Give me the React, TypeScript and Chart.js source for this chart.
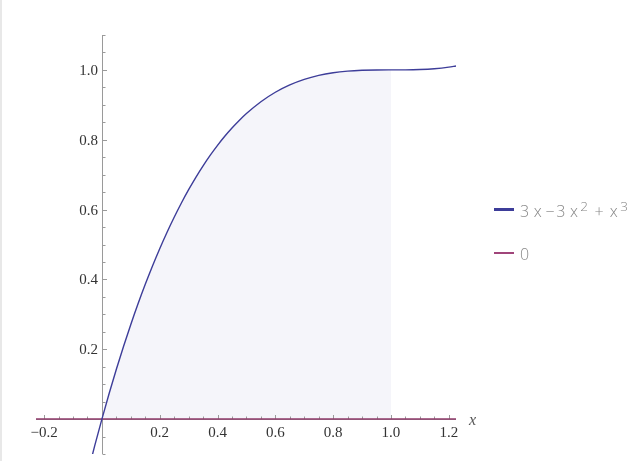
import React, { useEffect, useRef } from "react";
import { Chart, registerables } from "chart.js";

Chart.register(...registerables);

// Curve samples (x, y)
const curveX = [
  -0.05, -0.025, 0, 0.025, 0.05, 0.075, 0.1, 0.125, 0.15, 0.175, 0.2, 0.225, 0.25, 0.275, 0.3,
  0.325, 0.35, 0.375, 0.4, 0.425, 0.45, 0.475, 0.5, 0.55, 0.6, 0.65, 0.7, 0.75, 0.8, 0.85, 0.9,
  0.95, 1.0, 1.05, 1.1, 1.15, 1.2, 1.225,
];
const curveY = [
  -0.1576, -0.0769, 0, 0.0731, 0.1426, 0.2085, 0.271, 0.3301, 0.3859, 0.4385, 0.488, 0.5345,
  0.5781, 0.6189, 0.657, 0.6925, 0.7254, 0.7559, 0.784, 0.8099, 0.8336, 0.8553, 0.875, 0.9089,
  0.936, 0.9571, 0.973, 0.9844, 0.992, 0.9966, 0.999, 0.9999, 1.0, 1.0001, 1.001, 1.0034, 1.008,
  1.0114,
];
const zeroX = [-0.228, 1.225];
const zeroY = [0, 0];
const fillFrom = 0;
const fillTo = 1;

const xTickValues = [-0.2, 0.2, 0.4, 0.6, 0.8, 1.0, 1.2];
const xTickLabels = ["\u22120.2", "0.2", "0.4", "0.6", "0.8", "1.0", "1.2"];
const yTickValues = [0.2, 0.4, 0.6, 0.8, 1.0];
const yTickLabels = ["0.2", "0.4", "0.6", "0.8", "1.0"];
const xRange = [-0.228, 1.225];
const yRange = [-0.1, 1.1];
const minorStep = 0.05;

const seriesNames = ["3x\u22123x\u00b2+x\u00b3", "0"];
const curveColor = "#3d3d99";
const zeroColor = "#8f3a6a";
const legendZeroColor = "#a0457a";
const fillColor = "#f5f5fa";
const axisColor = "#9a9a9a";

const axesPlugin = {
  id: "mmaAxes",
  afterDatasetDraw(chart: any, args: any) {
    if (args.index !== 2) return;
    const ctx = chart.ctx;
    const xs = chart.scales.x;
    const ys = chart.scales.y;
    const area = chart.chartArea;
    const x0 = Math.round(xs.getPixelForValue(0)) + 0.5;
    const y0 = Math.round(ys.getPixelForValue(0)) + 0.5;
    ctx.save();
    ctx.strokeStyle = axisColor;
    ctx.lineWidth = 1;
    ctx.beginPath();
    ctx.moveTo(x0, area.top);
    ctx.lineTo(x0, area.bottom);
    ctx.moveTo(area.left, y0);
    ctx.lineTo(area.right, y0);
    ctx.stroke();
    const isMajor = (v: number, arr: number[]) => arr.some((t) => Math.abs(t - v) < 1e-9);
    ctx.beginPath();
    for (let k = Math.ceil(xRange[0] / minorStep); k <= Math.floor(xRange[1] / minorStep + 1e-9); k++) {
      if (k === 0) continue;
      const v = k * minorStep;
      const p = Math.round(xs.getPixelForValue(v)) + 0.5;
      const len = isMajor(v, xTickValues) ? 4.5 : 3;
      ctx.moveTo(p, y0);
      ctx.lineTo(p, y0 - len);
    }
    for (let k = Math.ceil(yRange[0] / minorStep - 1e-9); k <= Math.floor(yRange[1] / minorStep + 1e-9); k++) {
      if (k === 0) continue;
      const v = k * minorStep;
      const p = Math.round(ys.getPixelForValue(v)) + 0.5;
      const len = isMajor(v, yTickValues) ? 4.5 : 3;
      ctx.moveTo(x0, p);
      ctx.lineTo(x0 + len, p);
    }
    ctx.stroke();
    ctx.fillStyle = "#333333";
    ctx.font = '15px "Liberation Serif"';
    ctx.textAlign = "center";
    ctx.textBaseline = "alphabetic";
    xTickValues.forEach((v, i) => {
      ctx.fillText(xTickLabels[i], xs.getPixelForValue(v), y0 + 17);
    });
    ctx.textAlign = "right";
    yTickValues.forEach((v, i) => {
      ctx.fillText(yTickLabels[i], x0 - 4.5, ys.getPixelForValue(v) + 5);
    });
    ctx.fillStyle = "#555555";
    ctx.font = 'italic 16px "Liberation Serif"';
    ctx.textAlign = "left";
    ctx.fillText("x", area.right + 13, y0 + 5);
    ctx.restore();
  },
};

export default function App() {
  const ref = useRef<HTMLCanvasElement>(null);
  useEffect(() => {
    const curve = curveX.map((x, i) => ({ x, y: curveY[i] }));
    const filled = curve.filter((p) => p.x >= fillFrom && p.x <= fillTo);
    const zero = zeroX.map((x, i) => ({ x, y: zeroY[i] }));
    const chart = new Chart(ref.current!, {
      type: "line",
      data: {
        datasets: [
          {
            label: seriesNames[0],
            data: curve,
            borderColor: curveColor,
            borderWidth: 1.4,
            pointRadius: 0,
            cubicInterpolationMode: "monotone",
            fill: false,
            order: 0,
          },
          {
            label: seriesNames[1],
            data: zero,
            borderColor: zeroColor,
            borderWidth: 1.5,
            pointRadius: 0,
            fill: false,
            order: 1,
          },
          {
            label: "fill",
            data: filled,
            borderWidth: 0,
            borderColor: "rgba(0,0,0,0)",
            backgroundColor: fillColor,
            pointRadius: 0,
            cubicInterpolationMode: "monotone",
            fill: "origin",
            order: 2,
          },
        ],
      },
      options: {
        animation: false,
        responsive: false,
        maintainAspectRatio: false,
        layout: { padding: { left: 36, right: 176, top: 35, bottom: 7 } },
        plugins: { legend: { display: false }, tooltip: { enabled: false } },
        scales: {
          x: { type: "linear", min: xRange[0], max: xRange[1], display: false },
          y: { type: "linear", min: yRange[0], max: yRange[1], display: false },
        },
      } as any,
      plugins: [axesPlugin],
    });
    return () => chart.destroy();
  }, []);

  const legendText: React.CSSProperties = {
    position: "absolute",
    left: 520,
    fontFamily: '"Open Sans", "DejaVu Sans", sans-serif',
    fontWeight: 300,
    fontSize: 16,
    lineHeight: "16px",
    color: "#888888",
    whiteSpace: "nowrap",
  };
  const sup: React.CSSProperties = { fontSize: 13.5, position: "relative", top: -6.5, verticalAlign: "baseline", marginLeft: 2.5 };

  return (
    <div style={{ position: "absolute", left: 0, top: 0, width: 632, height: 461, background: "#fff", overflow: "hidden" }}>
      <div style={{ position: "absolute", left: 0, top: 0, width: 2, height: 461, background: "#e8e8e8" }} />
      <canvas ref={ref} width={632} height={461} style={{ position: "absolute", left: 0, top: 0, width: 632, height: 461 }} />
      <div style={{ position: "absolute", left: 493.5, top: 208.2, width: 20.5, height: 2.6, background: curveColor }} />
      <div style={{ ...legendText, top: 203.4 }}>
        3<span style={{ marginLeft: 4.5 }}>x</span>
        <span style={{ marginLeft: 4 }}>−</span>
        <span style={{ marginLeft: 1.5 }}>3</span>
        <span style={{ marginLeft: 4.5 }}>x</span>
        <span style={sup}>2</span>
        <span style={{ marginLeft: 6.5 }}>+</span>
        <span style={{ marginLeft: 6 }}>x</span>
        <span style={sup}>3</span>
      </div>
      <div style={{ position: "absolute", left: 493.5, top: 251.7, width: 20.5, height: 2.6, background: legendZeroColor }} />
      <div style={{ ...legendText, top: 246.4 }}>0</div>
    </div>
  );
}
